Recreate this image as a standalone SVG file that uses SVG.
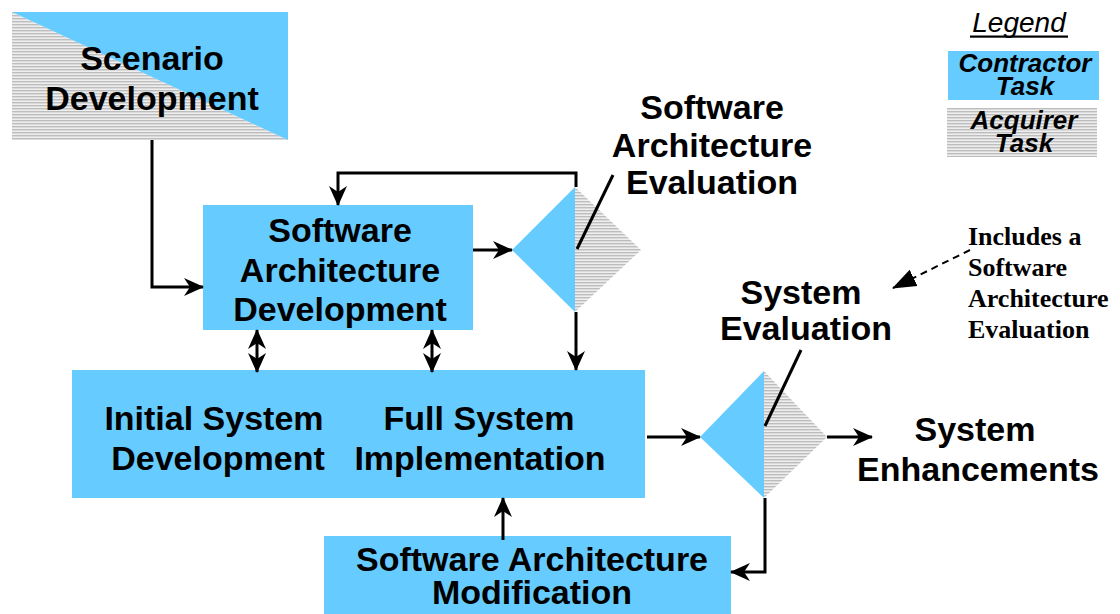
<svg xmlns="http://www.w3.org/2000/svg" width="1120" height="614" viewBox="0 0 1120 614">
<style>
.t{font-family:"Liberation Sans",Arial,sans-serif;font-weight:bold;font-size:34px;fill:#000;text-anchor:middle}
.lg{font-family:"Liberation Sans",Arial,sans-serif;font-weight:bold;font-style:italic;font-size:26px;fill:#000;text-anchor:middle}
.tm{font-family:"Liberation Serif","Times New Roman",serif;font-weight:bold;font-size:26px;fill:#000}
.blue{fill:#66CCFF}
.hatch{fill:url(#hatch)}
.c{fill:none;stroke:#000;stroke-width:3}
</style>
<defs>
<pattern id="hatch" patternUnits="userSpaceOnUse" width="6" height="3">
<rect width="6" height="3" fill="#eeeeee"/>
<rect y="0" width="6" height="1.4" fill="#bdbdbd"/>
</pattern>
<marker id="ah" markerUnits="userSpaceOnUse" viewBox="0 0 20 20" markerWidth="20" markerHeight="20" refX="19" refY="10" orient="auto-start-reverse">
<path d="M0,1 L20,10 L0,19 L6,10 z" fill="#000"/>
</marker>
<marker id="tri" markerUnits="userSpaceOnUse" viewBox="0 0 24 24" markerWidth="24" markerHeight="24" refX="23" refY="12" orient="auto">
<path d="M0,3 L24,12 L0,21 z" fill="#000"/>
</marker>
</defs>

<g id="scenario">
<polygon class="hatch" points="12,12 288,140 12,140"/>
<polygon class="blue" points="12,12 288,12 288,140"/>
<text class="t" x="152" y="70">Scenario</text>
<text class="t" x="152" y="110">Development</text>
</g>

<g id="sa-dev">
<rect class="blue" x="203" y="205" width="270" height="125"/>
<text class="t" x="340" y="242">Software</text>
<text class="t" x="340" y="282">Architecture</text>
<text class="t" x="340" y="321">Development</text>
</g>

<g id="sa-eval">
<polygon class="blue" points="512,250 575,187 575,312"/>
<polygon class="hatch" points="575,187 641,250 575,312"/>
<text class="t" x="712" y="119">Software</text>
<text class="t" x="712" y="157">Architecture</text>
<text class="t" x="712" y="194">Evaluation</text>
</g>

<g id="system-dev">
<rect class="blue" x="72" y="370" width="573" height="128"/>
<text class="t" x="214" y="430">Initial System</text>
<text class="t" x="218" y="470">Development</text>
<text class="t" x="479" y="430">Full System</text>
<text class="t" x="480" y="470">Implementation</text>
</g>

<g id="sys-eval">
<polygon class="blue" points="700,437 764,371 764,498"/>
<polygon class="hatch" points="764,371 827,437 764,498"/>
<text class="t" x="801" y="304">System</text>
<text class="t" x="806" y="340">Evaluation</text>
</g>

<g id="enhancements">
<text class="t" x="975" y="441">System</text>
<text class="t" x="978" y="481">Enhancements</text>
</g>

<g id="sa-mod">
<rect class="blue" x="324" y="536" width="407" height="80"/>
<text class="t" x="532" y="571">Software Architecture</text>
<text class="t" x="532" y="604">Modification</text>
</g>

<g id="legend">
<text x="1019" y="32" style="font-family:'Liberation Sans',Arial,sans-serif;font-style:italic;font-size:28px;fill:#000;text-anchor:middle">Legend</text>
<rect x="970" y="35.5" width="98" height="2.2" fill="#000"/>
<rect class="blue" x="948" y="51" width="151" height="49"/>
<text class="lg" x="1025" y="72">Contractor</text>
<text class="lg" x="1025" y="95">Task</text>
<rect class="hatch" x="947" y="108" width="150" height="49"/>
<text class="lg" x="1024" y="129">Acquirer</text>
<text class="lg" x="1024" y="152">Task</text>
</g>

<g id="note">
<text class="tm" x="968" y="245">Includes a</text>
<text class="tm" x="968" y="276">Software</text>
<text class="tm" x="968" y="307">Architecture</text>
<text class="tm" x="968" y="338">Evaluation</text>
</g>

<g id="connectors">
<path class="c" d="M152,140 V287 H203" marker-end="url(#ah)"/>
<path class="c" d="M576,187 V173 H338 V205" marker-end="url(#ah)"/>
<path class="c" d="M473,250 H512" marker-end="url(#ah)"/>
<path class="c" d="M576,312 V370" marker-end="url(#ah)"/>
<path class="c" d="M257,330 V372" marker-start="url(#ah)" marker-end="url(#ah)"/>
<path class="c" d="M432,330 V372" marker-start="url(#ah)" marker-end="url(#ah)"/>
<path class="c" d="M647,437 H700" marker-end="url(#ah)"/>
<path class="c" d="M827,437 H872" marker-end="url(#ah)"/>
<path class="c" d="M765,498 V572 H731" marker-end="url(#ah)"/>
<path class="c" d="M503,540 V498" marker-end="url(#ah)"/>
<path class="c" d="M577,249 L613,175"/>
<path class="c" d="M765,426 L801,350"/>
<path d="M970,250 L893,288" fill="none" stroke="#000" stroke-width="2" stroke-dasharray="7,5" marker-end="url(#tri)"/>
</g>
</svg>
